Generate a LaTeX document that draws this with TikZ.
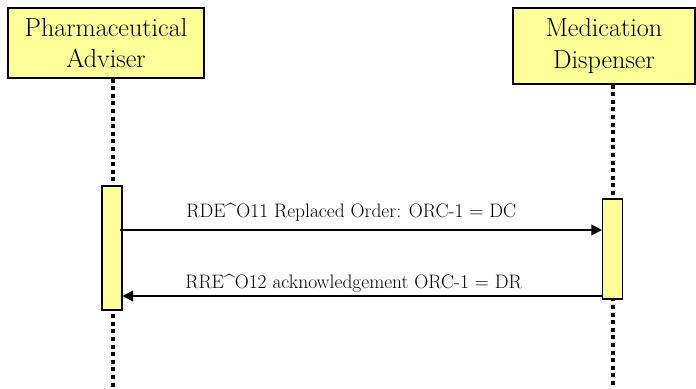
\documentclass[tikz,border=0pt]{standalone}
\usepackage{fontspec}
\newfontfamily\msgfont{lmroman17-regular}[Extension=.otf]
\usetikzlibrary{arrows.meta}
\definecolor{paleyellow}{HTML}{FFFF99}
\tikzset{
  actor/.style={draw=black,fill=paleyellow,line width=0.8pt,inner sep=0pt,
    align=center,font=\fontsize{19.6}{23.5}\selectfont},
  bar/.style={draw=black,fill=paleyellow,line width=0.8pt,inner sep=0pt,
    minimum width=15pt},
  lifeline/.style={line width=3pt,dash pattern=on 3pt off 2.7pt},
  msg/.style={line width=1.5pt,-{Triangle[length=8pt,width=8pt]}},
  msglabel/.style={anchor=base west,inner sep=0pt,font=\msgfont\fontsize{14.6}{18}\selectfont}
}
\begin{document}
\begin{tikzpicture}[x=0.75pt,y=-0.75pt]
    \useasboundingbox (0,0) rectangle (696,389);

    % actors
    \node [actor,minimum width=147pt,minimum height=52.5pt] (adviser) at (106,43) {Pharmaceutical\\Adviser};
    \node [actor,minimum width=136.5pt,minimum height=57pt] (dispenser) at (604,46) {Medication\\Dispenser};

    \coordinate (advbottom) at (113,389);
    \coordinate (disbottom) at (613,389);

    % lifelines
    \draw [lifeline] (adviser.south -| advbottom) -- (advbottom);
    \draw [lifeline] (dispenser.south -| disbottom) -- (disbottom);

    % activations
    \node [bar,minimum height=93pt] (advbar) at (112,248) {};
    \node [bar,minimum height=75pt] (disbar) at (612.5,249) {};

    % messages
    \coordinate (m1) at (0,230);
    \coordinate (m2) at (0,296);
    \draw [msg] ([xshift=-2pt]advbar.east |- m1) -- (disbar.west |- m1);
    \draw [msg] (disbar.west |- m2) -- (advbar.east |- m2);

    \node [msglabel] (lab1) at (186,217) {RDE\textasciicircum O11 Replaced Order: ORC-1 = DC};
    \node [msglabel] (lab2) at (185,288) {RRE\textasciicircum O12 acknowledgement ORC-1 = DR};
\end{tikzpicture}
\end{document}
